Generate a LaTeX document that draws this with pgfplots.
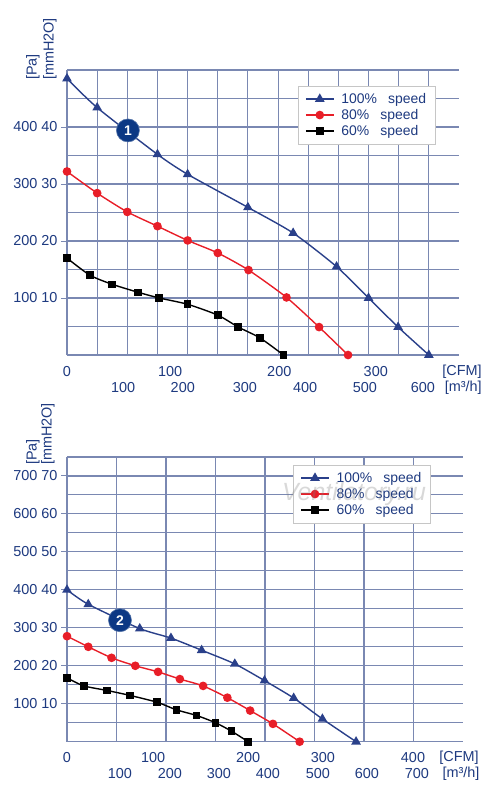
\documentclass[border=0pt]{standalone}
\usepackage{fontspec}
\setmainfont{Liberation Sans}
\usepackage{pgfplots}
\pgfplotsset{compat=1.18}
\definecolor{txtblue}{RGB}{30,58,128}
\definecolor{gridc}{RGB}{122,136,178}
\definecolor{c100}{RGB}{42,64,138}
\definecolor{c80}{RGB}{232,30,40}
\definecolor{c60}{RGB}{0,0,0}
\definecolor{badge}{RGB}{12,56,132}
\newcommand\fs{\fontsize{14.5}{16}\selectfont}
\newcommand\lfs{\fontsize{14}{16}\selectfont}
\tikzset{
  lab/.style={font=\fs, text=txtblue, inner sep=0pt, anchor=center},
  badgest/.style={circle, fill=badge, draw=badge!70!white, line width=0.6bp, text=white,
    font=\bfseries\fontsize{14}{14}\selectfont, minimum size=23bp, inner sep=0pt},
}
\pgfplotsset{
  fan/.style={
    scale only axis, clip=false,
    axis x line*=bottom, axis y line*=left,
    axis line style={gridc, line width=1.1bp, -},
    grid=both,
    grid style={gridc, line width=1.05bp},
    minor grid style={gridc, line width=1.05bp},
    tick align=outside,
    major tick length=6bp, minor tick length=0pt,
    y tick style={gridc, line width=1bp},
    x tick style={draw=none},
    xticklabels={},
    yticklabel style={font=\fs, text=txtblue},
    legend cell align=left,
    legend image code/.code={\draw[mark repeat=2,mark phase=2] plot coordinates {(0bp,0bp) (14bp,0bp) (28bp,0bp)};},
    legend style={draw=gray!45, fill=white, font=\lfs, text=txtblue,
      inner xsep=7bp, inner ysep=5bp, row sep=0.5bp, column sep=5bp, anchor=north west},
  },
  s100/.style={c100, line width=1.4bp, mark=triangle*, mark size=4.2bp, smooth, tension=0.4, mark options={solid}},
  s80/.style={c80, line width=1.4bp, mark=*, mark size=3.6bp, smooth, tension=0.4},
  s60/.style={c60, line width=1.4bp, mark=square*, mark size=3.1bp, smooth, tension=0.4},
}
\begin{document}
\begin{tikzpicture}
\path[use as bounding box] (0bp,-794bp) rectangle (500bp,0bp);

% ---------------- top chart ----------------
\begin{axis}[fan,
  at={(67bp,-355bp)}, anchor=south west,
  width=392bp, height=285bp,
  xmin=0, xmax=650, ymin=0, ymax=500,
  xtick={0,100,...,600}, minor xtick={50,150,...,550},
  ytick={100,200,300,400}, minor ytick={50,150,250,350,450,500},
  yticklabels={100 10,200 20,300 30,400 40},
  legend style={at={(0.589,0.944)}},
]
\addplot[s100] coordinates {(0,485)(50,434)(150,352)(200,317)(300,259)(375,214)(447,155)(500,100)(549,49)(600,0)};
\addlegendentry{100\%\hspace{11bp}speed}
\addplot[s80] coordinates {(0,322)(50,284)(100,251)(150,226)(200,201)(250,179)(301,149)(364,101)(418,49)(466,0)};
\addlegendentry{80\%\hspace{11bp}speed}
\addplot[s60] coordinates {(0,170)(38,140)(75,124)(118,110)(153,100)(200,89)(250,70)(284,49)(320,30)(359,0)};
\addlegendentry{60\%\hspace{11bp}speed}
\node[badgest] at (axis cs:101,394) {1};
% CFM row
\node[lab] at (axis cs:0,0)   [yshift=-17bp] {0};
\node[lab] at (axis cs:171,0) [yshift=-17bp] {100};
\node[lab] at (axis cs:352,0) [yshift=-17bp] {200};
\node[lab] at (axis cs:512,0) [yshift=-17bp] {300};
\node[lab] at (axis cs:655,0) [yshift=-17bp] {[CFM]};
% m3/h row
\node[lab] at (axis cs:93,0)  [yshift=-33bp] {100};
\node[lab] at (axis cs:192,0) [yshift=-33bp] {200};
\node[lab] at (axis cs:295,0) [yshift=-33bp] {300};
\node[lab] at (axis cs:395,0) [yshift=-33bp] {400};
\node[lab] at (axis cs:494,0) [yshift=-33bp] {500};
\node[lab] at (axis cs:590,0) [yshift=-33bp] {600};
\node[lab] at (axis cs:657,0) [yshift=-33bp] {[m³/h]};
\end{axis}
\node[font=\fs, text=txtblue, rotate=90, anchor=west, inner sep=0pt] at (33bp,-80bp) {[Pa]};
\node[font=\fs, text=txtblue, rotate=90, anchor=west, inner sep=0pt] at (50bp,-80bp) {[mmH2O]};

% ---------------- bottom chart ----------------
\begin{axis}[fan,
  at={(67bp,-741.7bp)}, anchor=south west,
  width=396bp, height=284.7bp,
  xmin=0, xmax=800, ymin=0, ymax=750,
  xtick={0,100,...,700}, minor xtick={},
  ytick={100,200,...,700}, minor ytick={50,150,...,650,750},
  yticklabels={100 10,200 20,300 30,400 40,500 50,600 60,700 70},
  legend style={at={(0.571,0.972)}},
]
\addplot[s100] coordinates {(0,400)(43,362)(147,298)(210,273)(272,241)(339,205)(399,161)(458,115)(516,60)(584,0)};
\addlegendentry{100\%\hspace{11bp}speed}
\addplot[s80] coordinates {(0,278)(43,250)(90,221)(138,200)(184,184)(228,165)(275,147)(324,116)(370,82)(416,47)(470,0)};
\addlegendentry{80\%\hspace{11bp}speed}
\addplot[s60] coordinates {(0,168)(34,147)(81,135)(127,122)(182,104)(221,84)(262,69)(300,50)(332,28)(366,0)};
\addlegendentry{60\%\hspace{11bp}speed}
\node[badgest] at (axis cs:107,320) {2};
% CFM row
\node[lab] at (axis cs:0,0)   [yshift=-16bp] {0};
\node[lab] at (axis cs:174,0) [yshift=-16bp] {100};
\node[lab] at (axis cs:366,0) [yshift=-16bp] {200};
\node[lab] at (axis cs:517,0) [yshift=-16bp] {300};
\node[lab] at (axis cs:699,0) [yshift=-16bp] {400};
\node[lab] at (axis cs:792,0) [yshift=-16bp] {[CFM]};
% m3/h row
\node[lab] at (axis cs:107,0) [yshift=-32bp] {100};
\node[lab] at (axis cs:208,0) [yshift=-32bp] {200};
\node[lab] at (axis cs:307,0) [yshift=-32bp] {300};
\node[lab] at (axis cs:406,0) [yshift=-32bp] {400};
\node[lab] at (axis cs:507,0) [yshift=-32bp] {500};
\node[lab] at (axis cs:606,0) [yshift=-32bp] {600};
\node[lab] at (axis cs:707,0) [yshift=-32bp] {700};
\node[lab] at (axis cs:796,0) [yshift=-32bp] {[m³/h]};
\end{axis}
\node[font=\fs, text=txtblue, rotate=90, anchor=west, inner sep=0pt] at (33bp,-465bp) {[Pa]};
\node[font=\fs, text=txtblue, rotate=90, anchor=west, inner sep=0pt] at (48bp,-465bp) {[mmH2O]};
\node[text=gray, opacity=0.3, font=\itshape\fontsize{25}{27}\selectfont, inner sep=0pt] at (354bp,-494bp) {Ventilatory.ru};
\end{tikzpicture}
\end{document}
